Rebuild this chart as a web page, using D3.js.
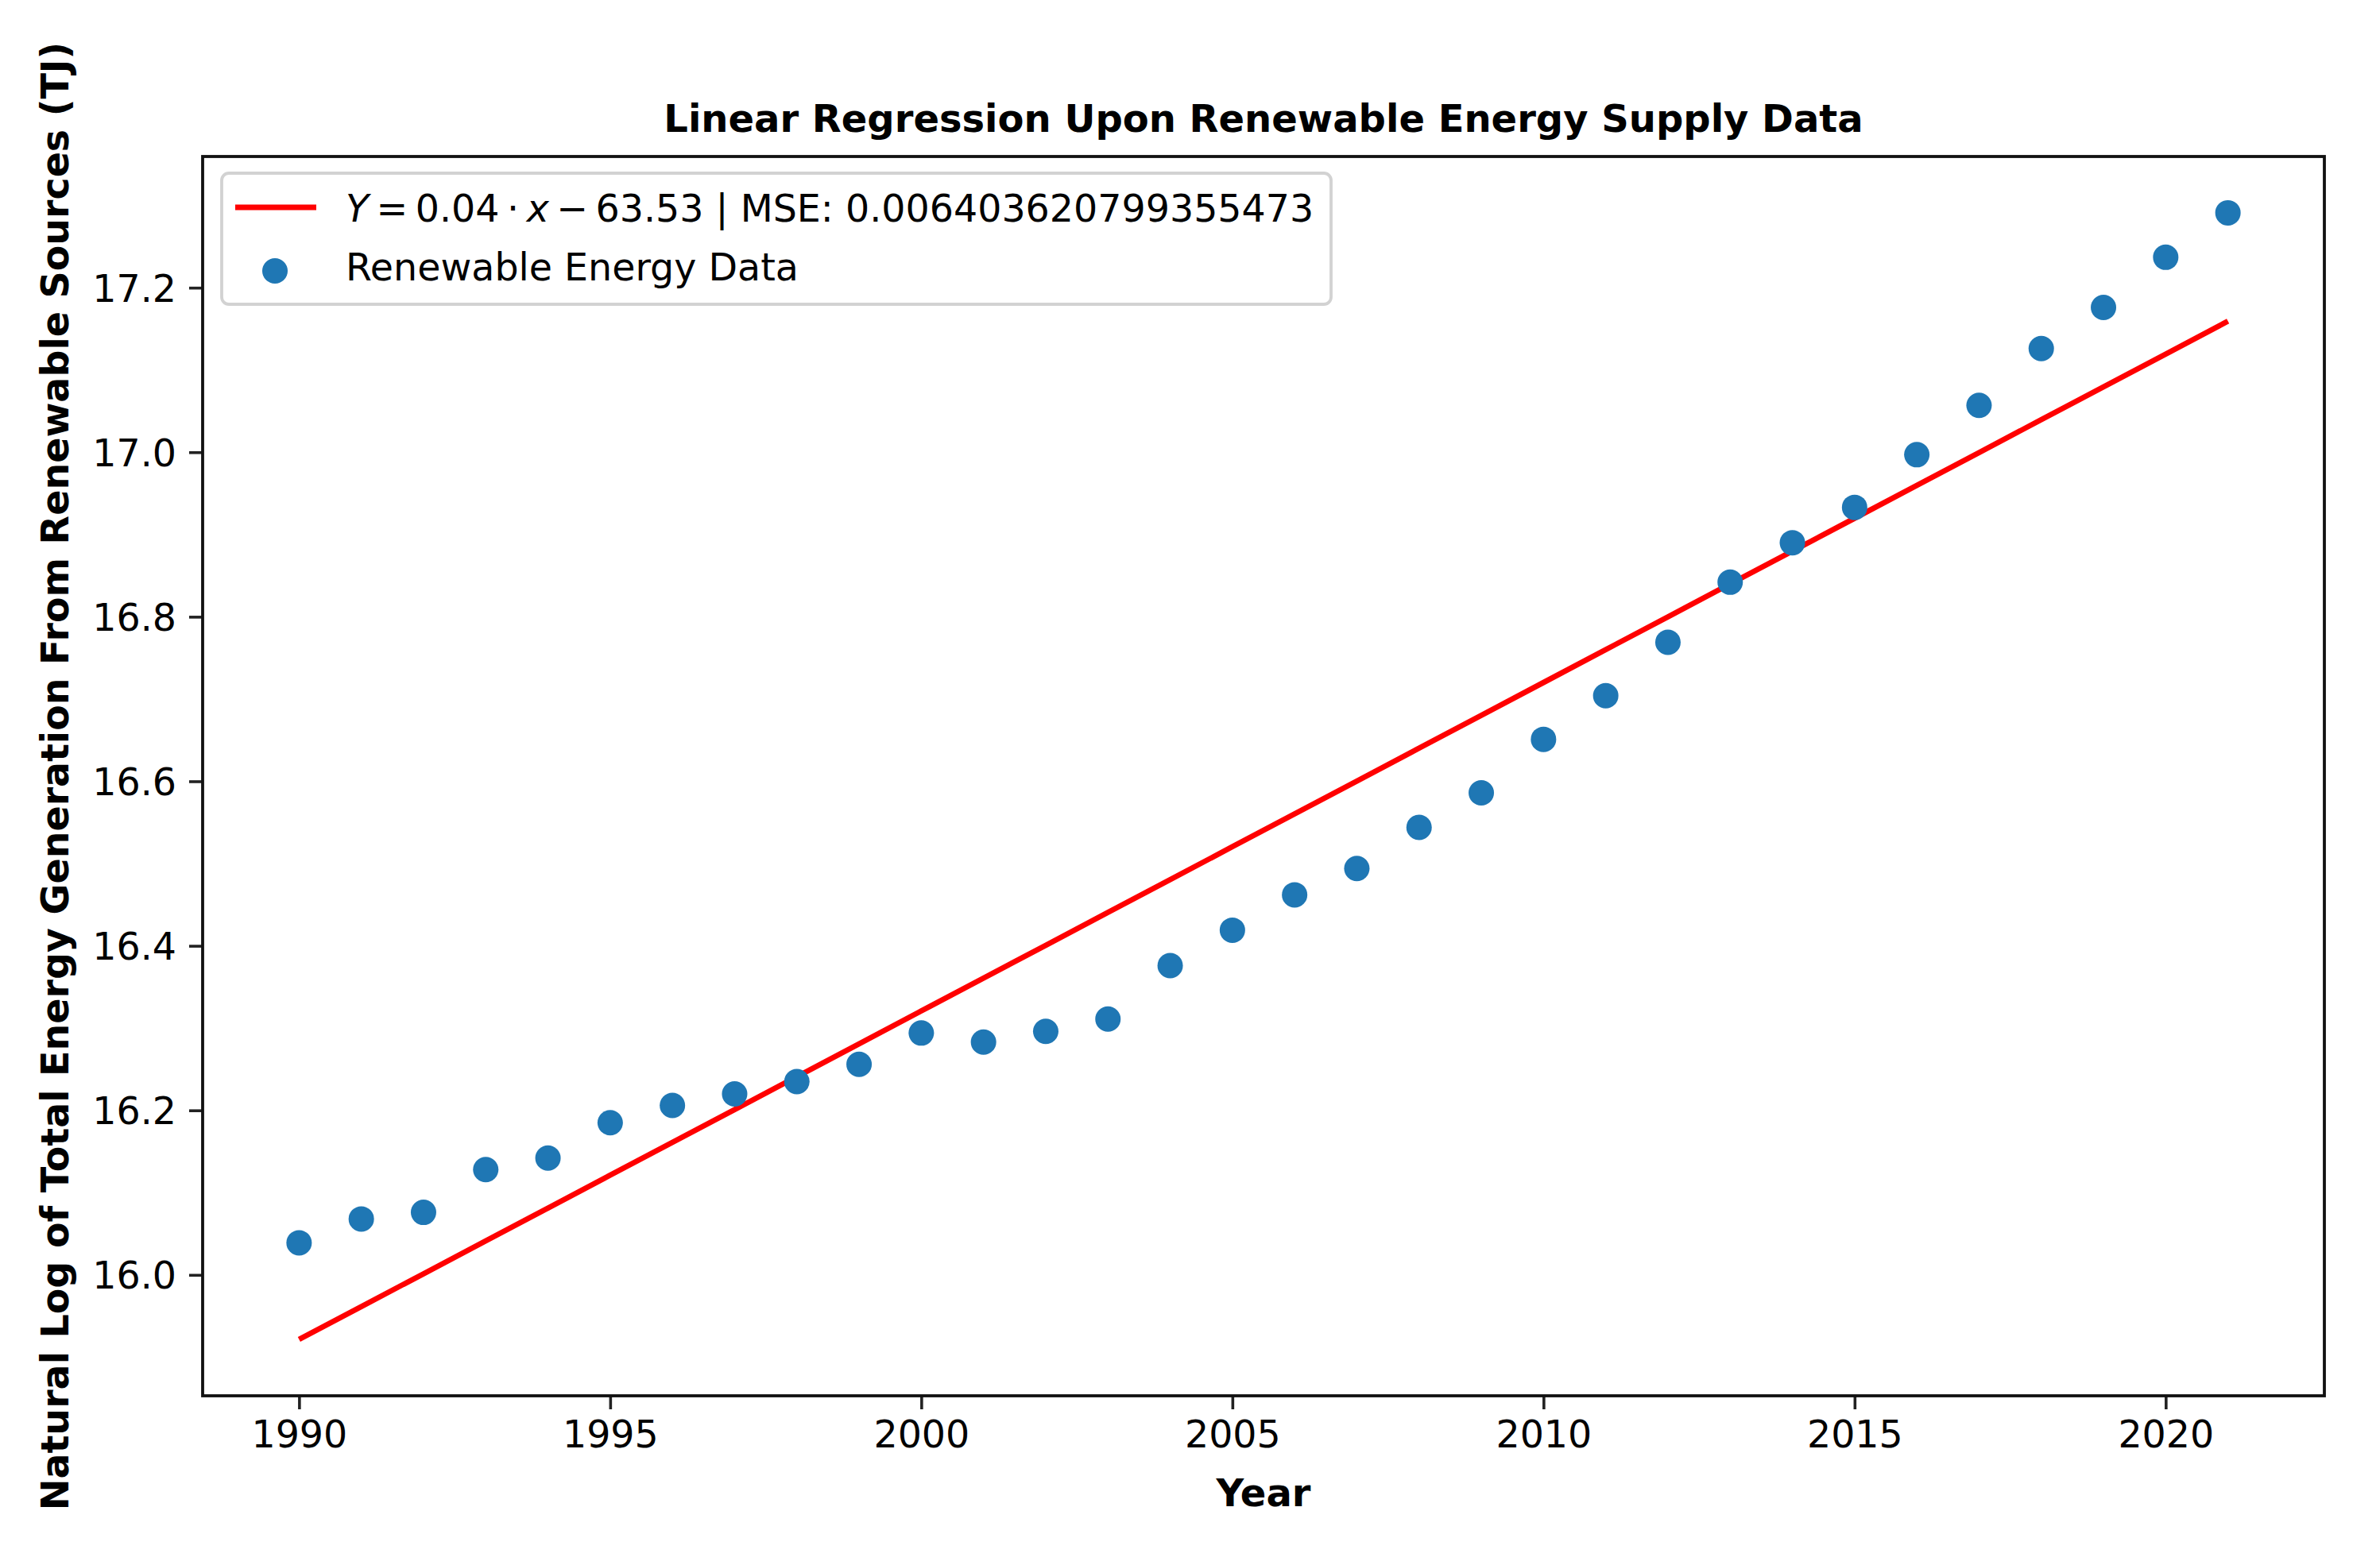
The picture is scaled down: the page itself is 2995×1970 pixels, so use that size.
<!DOCTYPE html>
<html>
<head>
<meta charset="utf-8">
<script src="https://cdn.jsdelivr.net/npm/d3@7"></script>
<style>
  body { margin: 0; background: #fff; }
  text { font-family: "DejaVu Sans", sans-serif; fill: #000; }
</style>
</head>
<body>
<div class="chart"></div>
<script>
//////////////// DATA ////////////////

// years on the x axis
var years = [1990, 1991, 1992, 1993, 1994, 1995, 1996, 1997, 1998, 1999,
             2000, 2001, 2002, 2003, 2004, 2005, 2006, 2007, 2008, 2009,
             2010, 2011, 2012, 2013, 2014, 2015, 2016, 2017, 2018, 2019,
             2020, 2021];

// ln(total renewable generation, TJ)
var logEnergy = [16.039, 16.068, 16.076, 16.128, 16.142, 16.185, 16.206, 16.220, 16.235, 16.256,
                 16.294, 16.283, 16.296, 16.311, 16.376, 16.419, 16.462, 16.494, 16.544, 16.586,
                 16.651, 16.704, 16.769, 16.842, 16.890, 16.933, 16.997, 17.057, 17.126, 17.176,
                 17.237, 17.291];

var xTicks = [1990, 1995, 2000, 2005, 2010, 2015, 2020];
var yTicks = [16.0, 16.2, 16.4, 16.6, 16.8, 17.0, 17.2];

var titleText = "Linear Regression Upon Renewable Energy Supply Data";
var xLabelText = "Year";
var yLabelText = "Natural Log of Total Energy Generation From Renewable Sources (TJ)";
// thin spaces round the operators, like mathtext
var fitLabelMid = "\u2009=\u20090.04\u2009\u00b7\u2009";
var fitLabelTail = "\u2009\u2212\u200963.53 | MSE: 0.006403620799355473";
var dataLabelText = "Renewable Energy Data";

//////////////// CHART AREA ////////////////

var svgWidth = 2995;
var svgHeight = 1970;

var margin = { top: 197, right: 70, bottom: 213, left: 255 };
var width = svgWidth - margin.left - margin.right;
var height = svgHeight - margin.top - margin.bottom;

var svg = d3.select(".chart")
  .append("svg")
  .attr("width", svgWidth)
  .attr("height", svgHeight);

var chartGroup = svg.append("g")
  .attr("transform", `translate(${margin.left}, ${margin.top})`);

//////////////// FIT ////////////////

// least squares line through the points
var meanX = d3.mean(years);
var meanY = d3.mean(logEnergy);
var sxy = d3.sum(years, (d, i) => (d - meanX) * (logEnergy[i] - meanY));
var sxx = d3.sum(years, d => (d - meanX) * (d - meanX));
var slope = sxy / sxx;
var intercept = meanY - slope * meanX;
var fitted = years.map(d => slope * d + intercept);

//////////////// SCALES ////////////////

// matplotlib style 5% margins
var xExt = d3.extent(years);
var xPad = (xExt[1] - xExt[0]) * 0.05;
var xScale = d3.scaleLinear()
  .domain([xExt[0] - xPad, xExt[1] + xPad])
  .range([0, width]);

var yExt = d3.extent(logEnergy.concat(fitted));
var yPad = (yExt[1] - yExt[0]) * 0.05;
var yScale = d3.scaleLinear()
  .domain([yExt[0] - yPad, yExt[1] + yPad])
  .range([height, 0]);

var bottomAxis = d3.axisBottom(xScale)
  .tickValues(xTicks)
  .tickFormat(d3.format("d"))
  .tickSize(17)
  .tickPadding(14);

var leftAxis = d3.axisLeft(yScale)
  .tickValues(yTicks)
  .tickFormat(d3.format(".1f"))
  .tickSize(17)
  .tickPadding(16);

//////////////// AXES ////////////////

var xAxisG = chartGroup.append("g")
  .attr("transform", `translate(0, ${height})`)
  .call(bottomAxis);

var yAxisG = chartGroup.append("g")
  .call(leftAxis);

[xAxisG, yAxisG].forEach(g => {
  g.select(".domain").remove();
  g.selectAll(".tick line").attr("stroke", "#222").attr("stroke-width", 3.6);
  g.selectAll(".tick text")
    .attr("fill", "#111")
    .style("font-family", "DejaVu Sans")
    .style("font-size", "47.5px");
});

yAxisG.selectAll(".tick text").attr("dy", "0.36em");

//////////////// MARKS ////////////////

var line = d3.line()
  .x(d => xScale(d))
  .y((d, i) => yScale(fitted[i]));

chartGroup.append("path")
  .datum(years)
  .attr("d", line)
  .attr("fill", "none")
  .attr("stroke", "#ff0000")
  .attr("stroke-width", 6.8);

chartGroup.selectAll("circle.pt")
  .data(years)
  .enter()
  .append("circle")
  .attr("class", "pt")
  .attr("cx", d => xScale(d))
  .attr("cy", (d, i) => yScale(logEnergy[i]))
  .attr("r", 16)
  .attr("fill", "#1f77b4");

// frame
chartGroup.append("rect")
  .attr("x", 0)
  .attr("y", 0)
  .attr("width", width)
  .attr("height", height)
  .attr("fill", "none")
  .attr("stroke", "#111")
  .attr("stroke-width", 3.8);

//////////////// LEGEND ////////////////

var legend = svg.append("g").attr("transform", "translate(279, 218)");

legend.append("rect")
  .attr("width", 1396)
  .attr("height", 165)
  .attr("rx", 9)
  .attr("fill", "#fff")
  .attr("fill-opacity", 0.8)
  .attr("stroke", "#d2d2d2")
  .attr("stroke-width", 3.8);

legend.append("line")
  .attr("x1", 17).attr("x2", 119)
  .attr("y1", 43).attr("y2", 43)
  .attr("stroke", "#ff0000")
  .attr("stroke-width", 6.8);

legend.append("circle")
  .attr("cx", 67)
  .attr("cy", 123)
  .attr("r", 16)
  .attr("fill", "#1f77b4");

var fitText = legend.append("text")
  .attr("x", 156)
  .attr("y", 61)
  .style("font-size", "47.5px")
  .attr("fill", "#111");
fitText.append("tspan").style("font-style", "italic").text("Y");
fitText.append("tspan").text(fitLabelMid);
fitText.append("tspan").style("font-style", "italic").text("x");
fitText.append("tspan").text(fitLabelTail);

legend.append("text")
  .attr("x", 156)
  .attr("y", 135)
  .style("font-size", "47.5px")
  .attr("fill", "#111")
  .text(dataLabelText);

//////////////// LABELS ////////////////

svg.append("text")
  .attr("x", margin.left + width / 2)
  .attr("y", 166)
  .attr("text-anchor", "middle")
  .style("font-size", "48px")
  .style("font-weight", "bold")
  .text(titleText);

svg.append("text")
  .attr("x", margin.left + width / 2)
  .attr("y", 1896)
  .attr("text-anchor", "middle")
  .style("font-size", "48px")
  .style("font-weight", "bold")
  .text(xLabelText);

svg.append("text")
  .attr("transform", `translate(86, ${margin.top + height / 2}) rotate(-90)`)
  .attr("text-anchor", "middle")
  .style("font-size", "47.5px")
  .style("font-weight", "bold")
  .text(yLabelText);
</script>
</body>
</html>
